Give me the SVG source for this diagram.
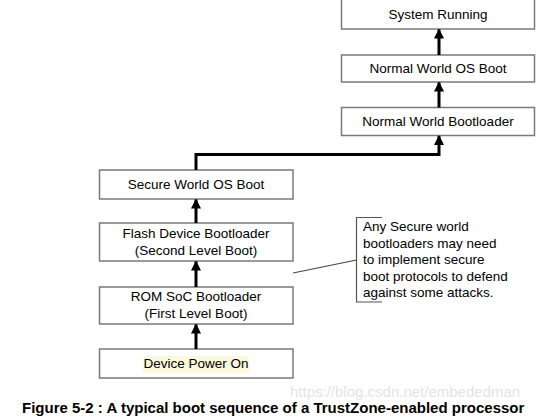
<svg xmlns="http://www.w3.org/2000/svg" width="554" height="420" viewBox="0 0 554 420">
<defs>
<marker id="ah" markerWidth="10" markerHeight="10" refX="9" refY="5" orient="auto" markerUnits="userSpaceOnUse">
<path d="M0,0 L10,5 L0,10 Z" fill="#000"/>
</marker>
<style>
.box{fill:#fff;stroke:#7a7a7a;stroke-width:1.5}
.t{font-family:"Liberation Sans",Arial,sans-serif;font-size:13.5px;fill:#000;text-anchor:middle}
.n{font-family:"Liberation Sans",Arial,sans-serif;font-size:13.5px;fill:#000}
.c{fill:none;stroke:#000;stroke-width:3}
</style>
</defs>
<rect width="554" height="420" fill="#fff"/>
<g id="system-running"><rect class="box" x="341.5" y="-3" width="193" height="32"/><text class="t" x="438" y="19">System Running</text></g>
<g id="normal-os"><rect class="box" x="341.5" y="55" width="193" height="27"/><text class="t" x="438" y="73">Normal World OS Boot</text></g>
<g id="normal-bl"><rect class="box" x="341.5" y="107.5" width="193" height="28"/><text class="t" x="438" y="126">Normal World Bootloader</text></g>
<g id="secure-os"><rect class="box" x="99.5" y="170" width="193.5" height="29"/><text class="t" x="196" y="189">Secure World OS Boot</text></g>
<g id="flash-bl"><rect class="box" x="99.5" y="223" width="193.5" height="38"/><text class="t" x="196" y="238">Flash Device Bootloader</text><text class="t" x="196" y="255">(Second Level Boot)</text></g>
<g id="rom-bl"><rect class="box" x="99.5" y="287" width="193.5" height="37"/><text class="t" x="196" y="301">ROM SoC Bootloader</text><text class="t" x="196" y="318">(First Level Boot)</text></g>
<g id="power-on"><rect class="box" x="99.5" y="349" width="193.5" height="29"/><rect x="143" y="356" width="106" height="17" fill="#fff8dc"/><text class="t" x="196" y="368">Device Power On</text></g>
<g id="note"><path d="M382,217.5 H356.5 V302 H382" fill="none" stroke="#555" stroke-width="1.2"/>
<text class="n" x="363" y="231">Any Secure world</text>
<text class="n" x="363" y="247.5">bootloaders may need</text>
<text class="n" x="363" y="264">to implement secure</text>
<text class="n" x="363" y="280.5">boot protocols to defend</text>
<text class="n" x="363" y="297">against some attacks.</text></g>
<g id="connectors">
<line class="c" x1="196" y1="349" x2="196" y2="324.5" marker-end="url(#ah)"/>
<line class="c" x1="196" y1="287" x2="196" y2="261.5" marker-end="url(#ah)"/>
<line class="c" x1="196" y1="223" x2="196" y2="199.5" marker-end="url(#ah)"/>
<path class="c" d="M196,170 V154.5 H439 V136" marker-end="url(#ah)"/>
<line class="c" x1="439" y1="107.5" x2="439" y2="82.5" marker-end="url(#ah)"/>
<line class="c" x1="439" y1="55" x2="439" y2="29.5" marker-end="url(#ah)"/>
<line x1="293" y1="273" x2="356.5" y2="260" stroke="#444" stroke-width="1.2"/>
</g>
<text x="290" y="397" font-family="'Liberation Sans',Arial,sans-serif" font-size="15" fill="#e4e4e4">https://blog.csdn.net/embededman</text>
<text x="22" y="413" font-family="'Liberation Sans',Arial,sans-serif" font-size="15" font-weight="bold" fill="#000">Figure 5-2 : A typical boot sequence of a TrustZone-enabled processor</text>
</svg>
